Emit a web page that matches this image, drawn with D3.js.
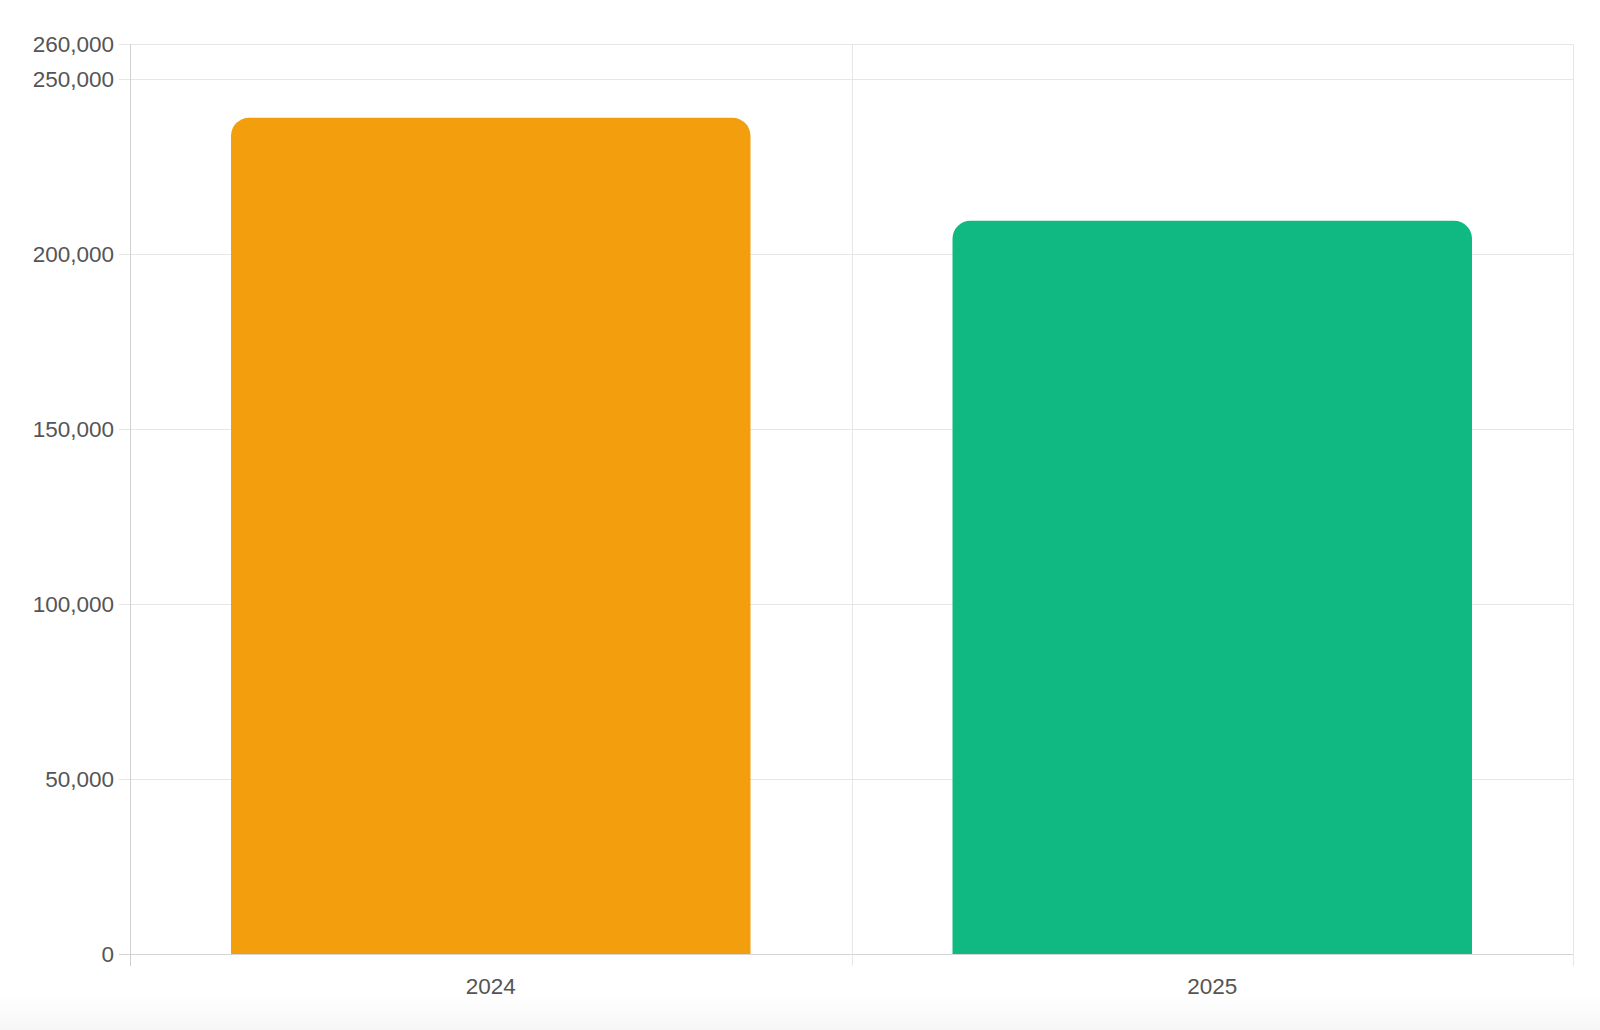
<!DOCTYPE html>
<html><head><meta charset="utf-8">
<script src="https://cdn.jsdelivr.net/npm/d3@7"></script>
<style>
html,body{margin:0;padding:0;background:#fff;}
svg{display:block;}
</style></head>
<body>
<svg id="c" width="1600" height="1030"></svg>
<script>
const categories = ["2024", "2025"];
const values = [239000, 209600];
const barColors = ["#F39E0D", "#10B981"];
const yTicks = [0, 50000, 100000, 150000, 200000, 250000, 260000];
const yMax = 260000;

const W = 1600, H = 1030;
const m = {left: 130, right: 27, top: 44.3, bottom: 76};
const svg = d3.select("#c");

// faint bottom band
const defs = svg.append("defs");
const g1 = defs.append("linearGradient").attr("id","bg").attr("x1",0).attr("x2",0).attr("y1",0).attr("y2",1);
g1.append("stop").attr("offset","0%").attr("stop-color","#ffffff");
g1.append("stop").attr("offset","100%").attr("stop-color","#f6f6f6");
svg.append("rect").attr("x",0).attr("y",995).attr("width",W).attr("height",35).attr("fill","url(#bg)");

const x = d3.scaleBand().domain(categories).range([m.left, W - m.right]).paddingInner(0).paddingOuter(0);
const y = d3.scaleLinear().domain([0, yMax]).range([H - m.bottom, m.top]);

const font = "'Liberation Sans', Arial, Helvetica, sans-serif";
const grid = "#e6e6e6";

// horizontal gridlines + ticks
const gy = svg.append("g");
gy.selectAll("line.h").data(yTicks).join("line")
  .attr("x1", m.left - 11).attr("x2", W - m.right)
  .attr("y1", d => Math.round(y(d)) + 0.5).attr("y2", d => Math.round(y(d)) + 0.5)
  .attr("stroke", d => d === 0 ? "#d4d4d4" : grid).attr("stroke-width", 1);
gy.selectAll("text").data(yTicks).join("text")
  .attr("x", m.left - 16).attr("y", d => y(d))
  .attr("dy", "0.35em").attr("text-anchor", "end")
  .attr("font-family", font).attr("font-size", 22.5).attr("fill", "#555")
  .text(d => d3.format(",")(d));

// vertical gridlines at band edges
const vEdges = [m.left].concat(categories.map(c => x(c) + x.bandwidth()));
svg.append("g").selectAll("line").data(vEdges).join("line")
  .attr("x1", d => Math.round(d) + 0.5).attr("x2", d => Math.round(d) + 0.5)
  .attr("y1", m.top).attr("y2", H - m.bottom + 12)
  .attr("stroke", (d, i) => i === 0 ? "#d0d0d0" : grid).attr("stroke-width", 1);

// bars with rounded top corners
const bw = x.bandwidth() * 0.72;
const r = 18;
function barPath(x0, y0, w, h) {
  const rr = Math.min(r, w / 2, h);
  return `M${x0},${y0 + h}V${y0 + rr}A${rr},${rr} 0 0 1 ${x0 + rr},${y0}H${x0 + w - rr}A${rr},${rr} 0 0 1 ${x0 + w},${y0 + rr}V${y0 + h}Z`;
}
svg.append("g").selectAll("path").data(categories).join("path")
  .attr("d", (c, i) => {
    const x0 = x(c) + (x.bandwidth() - bw) / 2;
    const y0 = y(values[i]);
    return barPath(x0, y0, bw, y(0) - y0);
  })
  .attr("fill", (c, i) => barColors[i]);

// x labels
svg.append("g").selectAll("text").data(categories).join("text")
  .attr("x", c => x(c) + x.bandwidth() / 2).attr("y", H - m.bottom + 32)
  .attr("dy", "0.35em").attr("text-anchor", "middle")
  .attr("font-family", font).attr("font-size", 22.5).attr("fill", "#555")
  .text(c => c);
</script>
</body></html>
